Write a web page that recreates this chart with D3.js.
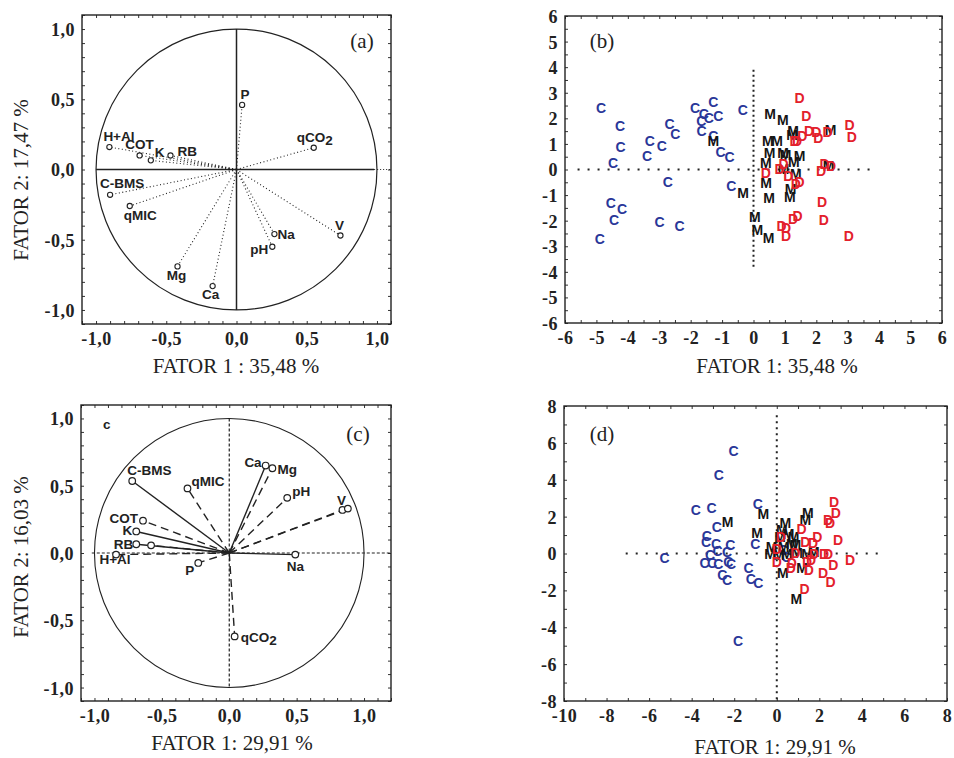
<!DOCTYPE html>
<html>
<head>
<meta charset="utf-8">
<script src="https://cdn.jsdelivr.net/npm/d3@7"></script>
<style>
body { margin: 0; background: #fff; }
.tick text { font-family: "Liberation Serif", "Times New Roman", serif; font-weight: bold; font-size: 18px; letter-spacing: 0.5px; fill: #222; }
.domain { display: none; }
.title { font-family: "Liberation Serif", "Times New Roman", serif; font-size: 21px; fill: #222; }
.vlab { font-family: "Liberation Sans", Arial, sans-serif; font-weight: bold; font-size: 13.5px; fill: #222; }
.pt { font-family: "Liberation Sans", Arial, sans-serif; font-weight: bold; font-size: 14px; }
</style>
</head>
<body>
<script>
// ---------- data ----------
// panel (a): loadings F1 x F2
var varsA = ["P", "qCO2", "H+Al", "COT", "K", "RB", "C-BMS", "qMIC", "Mg", "Ca", "Na", "pH", "V"];
var f1A = [0.04, 0.55, -0.905, -0.69, -0.61, -0.47, -0.90, -0.76, -0.42, -0.17, 0.27, 0.255, 0.74];
var f2A = [0.46, 0.155, 0.16, 0.10, 0.065, 0.10, -0.18, -0.26, -0.69, -0.83, -0.46, -0.55, -0.47];

// panel (c): loadings F1 x F2 ("" = unlabelled point)
var varsC = ["C-BMS", "qMIC", "Ca", "Mg", "pH", "V", "", "COT", "K", "RB", "", "H+Al", "P", "Na", "qCO2"];
var f1C = [-0.72, -0.31, 0.27, 0.32, 0.43, 0.84, 0.88, -0.64, -0.69, -0.69, -0.58, -0.84, -0.23, 0.49, 0.04];
var f2C = [0.535, 0.48, 0.65, 0.63, 0.41, 0.32, 0.33, 0.24, 0.16, 0.065, 0.057, -0.012, -0.074, -0.012, -0.62];
var solidC = ["C-BMS", "Ca", "K", "RB", "Na"];

var ticksLoad = [-1, -0.5, 0, 0.5, 1];
var ticksLoadLab = ["-1,0", "-0,5", "0,0", "0,5", "1,0"];

// panel (b): scores
var bCx = [-4.85, -4.25, -4.23, -4.47, -3.30, -2.92, -3.39, -2.67, -2.49, -2.73, -1.86, -1.58, -1.28, -1.42, -1.66, -1.12, -1.65, -1.28, -1.05, -0.76, -0.34, -0.71, -4.54, -4.18, -4.44, -2.99, -2.35, -4.89];
var bCy = [2.41, 1.72, 0.87, 0.26, 1.12, 0.91, 0.53, 1.78, 1.38, -0.50, 2.41, 2.18, 2.63, 2.01, 1.89, 2.08, 1.52, 1.33, 0.70, 0.48, 2.31, -0.66, -1.30, -1.54, -1.99, -2.05, -2.20, -2.72];
var bMx = [0.53, 0.93, 1.26, 1.23, 0.46, 0.75, 0.51, 0.94, 1.02, 1.47, 1.28, 0.39, 1.35, 0.40, 1.18, 0.50, 1.16, -0.33, -1.28, 0.04, 0.12, 0.48, 2.45, 2.39, 0.96];
var bMy = [2.18, 1.94, 1.50, 1.36, 1.12, 1.12, 0.66, 0.64, 0.55, 0.51, 0.29, 0.25, -0.17, -0.53, -0.78, -1.13, -1.09, -0.93, 1.13, -1.86, -2.36, -2.66, 1.54, 0.12, 0.04];
var bDx = [1.47, 1.68, 1.77, 2.00, 2.36, 2.06, 1.55, 1.39, 1.31, 3.06, 3.13, 0.96, 0.83, 0.39, 1.11, 1.47, 1.35, 2.26, 2.47, 2.15, 2.18, 2.24, 1.40, 1.26, 0.89, 1.04, 1.04, 3.03];
var bDy = [2.79, 2.11, 1.52, 1.46, 1.45, 1.24, 1.33, 1.13, 1.13, 1.75, 1.29, 0.21, 0.01, -0.12, -0.27, -0.50, -0.56, 0.20, 0.13, -0.05, -1.26, -1.98, -1.81, -1.94, -2.19, -2.28, -2.61, -2.61];

// panel (d): scores
var dCx = [-2.03, -2.72, -3.81, -3.07, -0.89, -2.82, -3.29, -3.32, -2.85, -2.18, -1.01, -2.78, -2.34, -3.13, -5.27, -3.39, -3.04, -2.75, -2.28, -2.15, -1.33, -2.56, -2.34, -1.22, -0.87, -1.82, 0.45, 0.30];
var dCy = [5.54, 4.28, 2.35, 2.47, 2.67, 1.44, 0.94, 0.61, 0.54, 0.47, 0.52, 0.14, 0.07, -0.07, -0.23, -0.54, -0.54, -0.58, -0.47, -0.58, -0.79, -1.16, -1.44, -1.37, -1.59, -4.73, -0.20, 0.20];
var dMx = [1.46, 1.34, -0.63, -2.31, -0.92, 0.40, 0.24, 0.55, 0.79, 0.71, 0.32, -0.24, -0.32, 0.47, 0.95, 1.42, 1.74, 1.19, 0.28, 0.92, 0.16, 0.87, 0.10];
var dMy = [2.20, 1.84, 2.13, 1.71, 1.14, 1.66, 1.26, 1.08, 0.90, 0.54, 0.36, 0.36, 0.00, 0.00, 0.04, 0.00, 0.11, -0.81, -1.08, -2.49, 0.90, 0.45, -0.10];
var dDx = [2.69, 2.77, 2.41, 2.50, 1.16, 1.90, 2.88, 0.19, 1.34, 1.71, 0.00, 0.87, 1.74, 2.22, 2.41, 0.00, 0.71, 0.66, 1.42, 1.61, 1.50, 2.66, 3.45, 2.18, 2.53, 1.31];
var dDy = [2.80, 2.20, 1.81, 1.66, 1.35, 0.90, 0.76, 0.90, 0.63, 0.58, 0.22, 0.04, -0.04, 0.00, 0.00, -0.45, -0.54, -0.81, -0.45, -0.36, -0.87, -0.63, -0.36, -1.05, -1.53, -1.93];

var ticksB = [-6, -5, -4, -3, -2, -1, 0, 1, 2, 3, 4, 5, 6];
var ticksDx = [-10, -8, -6, -4, -2, 0, 2, 4, 6, 8];
var ticksDy = [-8, -6, -4, -2, 0, 2, 4, 6, 8];

// ---------- label placement (layout only) ----------
var labA = {
  "P": [3, -6, "middle"], "qCO2": [1, -6, "middle"], "H+Al": [-6, -6, "start"],
  "COT": [0, -6, "middle"], "K": [4, -3, "start"], "RB": [7, 1, "start"],
  "C-BMS": [-10, -7, "start"], "qMIC": [-6, 14, "start"], "Mg": [-1, 14, "middle"],
  "Ca": [-2, 13, "middle"], "Na": [3, 5, "start"], "pH": [-4, 7, "end"], "V": [-1, -6, "middle"]
};
var labC = {
  "C-BMS": [-5, -6, "start"], "qMIC": [4, -2, "start"], "Ca": [-4, 1, "end"], "Mg": [5, 6, "start"],
  "pH": [5, -2, "start"], "V": [-1, -5, "middle"], "COT": [-5, 2, "end"], "K": [-4, 4, "end"],
  "RB": [-3, 5, "end"], "H+Al": [-1, 9, "middle"], "P": [-4, 12, "end"], "Na": [0, 16, "middle"],
  "qCO2": [6, 6, "start"]
};

var svg = d3.select("body").append("svg")
    .attr("width", 954)
    .attr("height", 758);

function hyph(d) { return String(d).replace("\u2212", "-"); }

// frame + axes
function frame(x, y, xt, xf, yt, yf, minorX, minorY) {
  var x0 = x.range()[0], x1 = x.range()[1], y0 = y.range()[0], y1 = y.range()[1];
  svg.append("g").attr("transform", "translate(0," + (y0 + 3) + ")")
    .call(d3.axisBottom(x).tickValues(xt).tickSize(0).tickPadding(5).tickFormat(xf));
  svg.append("g").attr("transform", "translate(" + (x0 - 7) + ",0)")
    .call(d3.axisLeft(y).tickValues(yt).tickSize(0).tickPadding(0).tickFormat(yf))
    .selectAll("text").attr("dy", "0.36em");
  // inward minor ticks
  [[d3.axisBottom(x).tickValues(minorX), y0], [d3.axisTop(x).tickValues(minorX), y1]].forEach(function(a) {
    svg.append("g").attr("transform", "translate(0," + a[1] + ")")
      .call(a[0].tickSize(-3).tickFormat(""))
      .selectAll("line").attr("stroke", "#333");
  });
  [[d3.axisLeft(y).tickValues(minorY), x0], [d3.axisRight(y).tickValues(minorY), x1]].forEach(function(a) {
    svg.append("g").attr("transform", "translate(" + a[1] + ",0)")
      .call(a[0].tickSize(-3).tickFormat(""))
      .selectAll("line").attr("stroke", "#333");
  });
  svg.append("rect")
    .attr("x", x0).attr("y", y1)
    .attr("width", x1 - x0).attr("height", y0 - y1)
    .attr("fill", "none").attr("stroke", "#222").attr("stroke-width", 1.4);
}

function titles(cx, cy, xt, ylab, yc, lx, ly, lab) {
  svg.append("text").attr("class", "title").attr("x", cx).attr("y", cy)
    .attr("text-anchor", "middle").text(xt);
  if (ylab) {
    svg.append("text").attr("class", "title")
      .attr("transform", "translate(28," + yc + ") rotate(-90)")
      .attr("text-anchor", "middle").text(ylab);
  }
  svg.append("text").attr("class", "title").attr("x", lx).attr("y", ly)
    .attr("text-anchor", "middle").text(lab);
}

var minorLoad = d3.range(-11, 12).map(function(d) { return d / 10; });

// ---------- panel (a) ----------
var xa = d3.scaleLinear().domain([-1.1, 1.1]).range([82, 391]);
var ya = d3.scaleLinear().domain([-1.1, 1.1]).range([324, 15]);
frame(xa, ya, ticksLoad, function(d, i) { return ticksLoadLab[i]; },
      ticksLoad, function(d, i) { return ticksLoadLab[i]; }, minorLoad, minorLoad);

svg.append("ellipse").attr("cx", xa(0)).attr("cy", ya(0))
  .attr("rx", xa(1) - xa(0)).attr("ry", ya(-1) - ya(0))
  .attr("fill", "none").attr("stroke", "#222").attr("stroke-width", 1.2);
svg.append("line").attr("x1", xa(0)).attr("x2", xa(0)).attr("y1", ya(1)).attr("y2", ya(-1))
  .attr("stroke", "#222").attr("stroke-width", 1.5);
svg.append("line").attr("x1", xa(-1)).attr("x2", xa(0.98)).attr("y1", ya(0)).attr("y2", ya(0))
  .attr("stroke", "#222").attr("stroke-width", 1.3);
svg.append("line").attr("x1", xa(0.98)).attr("x2", xa(1.1)).attr("y1", ya(0)).attr("y2", ya(0))
  .attr("stroke", "#222").attr("stroke-dasharray", "1,2");

svg.selectAll(".vecA").data(varsA).enter().append("line")
  .attr("x1", xa(0)).attr("y1", ya(0))
  .attr("x2", function(d, i) { return xa(f1A[i]); })
  .attr("y2", function(d, i) { return ya(f2A[i]); })
  .attr("stroke", "#222").attr("stroke-width", 1.1).attr("stroke-dasharray", "1,2.5");
svg.selectAll(".ptA").data(varsA).enter().append("circle")
  .attr("cx", function(d, i) { return xa(f1A[i]); })
  .attr("cy", function(d, i) { return ya(f2A[i]); })
  .attr("r", 2.6).attr("fill", "#fff").attr("stroke", "#222").attr("stroke-width", 1.1);

function varLabel(d, i, xs, ys, fx, fy, pl) {
  var p = pl[d];
  var t = svg.append("text").attr("class", "vlab")
    .attr("x", xs(fx[i]) + p[0]).attr("y", ys(fy[i]) + p[1])
    .attr("text-anchor", p[2]);
  if (d === "qCO2") {
    t.append("tspan").text("qCO");
    t.append("tspan").attr("dy", 3).text("2");
  } else {
    t.text(d);
  }
}
varsA.forEach(function(d, i) { varLabel(d, i, xa, ya, f1A, f2A, labA); });
titles(236, 373, "FATOR 1 : 35,48 %", "FATOR 2: 17,47 %", 180, 362, 48, "(a)");

// ---------- panel (c) ----------
var xc = d3.scaleLinear().domain([-1.1, 1.2]).range([81, 391]);
var yc = d3.scaleLinear().domain([-1.1, 1.1]).range([701, 405]);
frame(xc, yc, ticksLoad, function(d, i) { return ticksLoadLab[i]; },
      ticksLoad, function(d, i) { return ticksLoadLab[i]; },
      d3.range(-11, 13).map(function(d) { return d / 10; }), minorLoad);

svg.append("ellipse").attr("cx", xc(0)).attr("cy", yc(0))
  .attr("rx", xc(1) - xc(0)).attr("ry", yc(-1) - yc(0))
  .attr("fill", "none").attr("stroke", "#222").attr("stroke-width", 1.1);
svg.append("line").attr("x1", xc(0)).attr("x2", xc(0)).attr("y1", yc(1)).attr("y2", yc(-1))
  .attr("stroke", "#222").attr("stroke-width", 1.2).attr("stroke-dasharray", "3,2");
svg.append("line").attr("x1", xc(-1.02)).attr("x2", xc(1.2)).attr("y1", yc(0)).attr("y2", yc(0))
  .attr("stroke", "#222").attr("stroke-width", 1.2).attr("stroke-dasharray", "3,2");

svg.selectAll(".vecC").data(varsC).enter().append("line")
  .attr("x1", xc(0)).attr("y1", yc(0))
  .attr("x2", function(d, i) { return xc(f1C[i]); })
  .attr("y2", function(d, i) { return yc(f2C[i]); })
  .attr("stroke", "#222").attr("stroke-width", 1.4)
  .attr("stroke-dasharray", function(d) { return solidC.indexOf(d) >= 0 ? null : "8,5"; });
svg.selectAll(".ptC").data(varsC).enter().append("circle")
  .attr("cx", function(d, i) { return xc(f1C[i]); })
  .attr("cy", function(d, i) { return yc(f2C[i]); })
  .attr("r", 3.3).attr("fill", "#fff").attr("stroke", "#222").attr("stroke-width", 1.2);
varsC.forEach(function(d, i) { if (d) varLabel(d, i, xc, yc, f1C, f2C, labC); });
svg.append("text").attr("class", "vlab").attr("x", 103).attr("y", 429).text("c");
titles(232, 750, "FATOR 1: 29,91 %", "FATOR 2: 16,03 %", 557, 358, 441, "(c)");

// ---------- scatter panels ----------
var blue = "#2a3799", red = "#e3202b", black = "#151515";

function scores(xs, ys, gx, gy, col, ch) {
  svg.append("g").selectAll("text").data(gx).enter().append("text")
    .attr("class", "pt")
    .attr("x", function(d) { return xs(d); })
    .attr("y", function(d, i) { return ys(gy[i]); })
    .attr("dy", "0.36em")
    .attr("text-anchor", "middle")
    .attr("fill", col)
    .text(ch);
}

// panel (b)
var xb = d3.scaleLinear().domain([-6, 6]).range([565, 942]);
var yb = d3.scaleLinear().domain([-6, 6]).range([323, 16]);
frame(xb, yb, ticksB, hyph, ticksB, hyph, d3.range(-6, 6.5, 0.5), d3.range(-6, 6.5, 0.5));
svg.append("line").attr("x1", xb(-5.6)).attr("x2", xb(3.9)).attr("y1", yb(0)).attr("y2", yb(0))
  .attr("stroke", "#222").attr("stroke-width", 2).attr("stroke-dasharray", "2,8");
svg.append("line").attr("x1", xb(0)).attr("x2", xb(0)).attr("y1", yb(3.9)).attr("y2", yb(-3.9))
  .attr("stroke", "#222").attr("stroke-width", 2).attr("stroke-dasharray", "2,3");
scores(xb, yb, bCx, bCy, blue, "C");
scores(xb, yb, bMx, bMy, black, "M");
scores(xb, yb, bDx, bDy, red, "D");
titles(777, 373, "FATOR 1: 35,48 %", null, 0, 602, 48, "(b)");

// panel (d)
var xd = d3.scaleLinear().domain([-10, 8]).range([564, 947]);
var yd = d3.scaleLinear().domain([-8, 8]).range([701, 406]);
frame(xd, yd, ticksDx, hyph, ticksDy, hyph, d3.range(-10, 9, 1), d3.range(-8, 9, 1));
svg.append("line").attr("x1", xd(-7.1)).attr("x2", xd(4.9)).attr("y1", yd(0)).attr("y2", yd(0))
  .attr("stroke", "#222").attr("stroke-width", 2).attr("stroke-dasharray", "2,8");
svg.append("line").attr("x1", xd(0)).attr("x2", xd(0)).attr("y1", yd(7.5)).attr("y2", yd(-8))
  .attr("stroke", "#222").attr("stroke-width", 2).attr("stroke-dasharray", "2,4");
scores(xd, yd, dCx, dCy, blue, "C");
scores(xd, yd, dMx, dMy, black, "M");
scores(xd, yd, dDx, dDy, red, "D");
titles(775, 754, "FATOR 1: 29,91 %", null, 0, 602, 441, "(d)");
</script>
</body>
</html>
